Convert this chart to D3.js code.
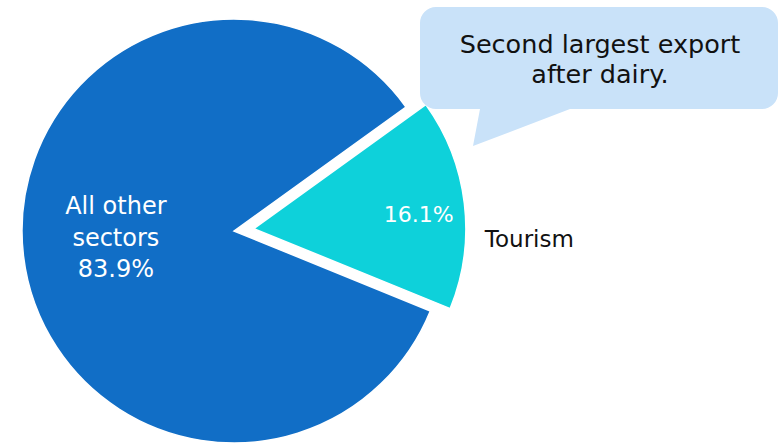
<!DOCTYPE html>
<html>
<head>
<meta charset="utf-8">
<script src="https://cdn.jsdelivr.net/npm/d3@7"></script>
<style>
  html, body { margin: 0; padding: 0; background: #fff; }
  svg text { font-family: "DejaVu Sans", "Noto Sans", sans-serif; }
</style>
</head>
<body>
<svg id="chart" width="779" height="443"></svg>
<script>
// Export share by sector
const categories = ["Tourism", "All other sectors"];
const values = [16.1, 83.9];
const sliceColors = ["#0ED1DA", "#116EC6"];
const calloutLines = ["Second largest export", "after dairy."];

const W = 779, H = 443;
const cx = 234, cy = 231, radius = 212;
const explode = 20;          // tourism slice pulled out
const startAngle = 54.2 * Math.PI / 180;

const svg = d3.select("#chart");

const pie = d3.pie()
  .sort(null)
  .value(d => d.value)
  .startAngle(startAngle)
  .endAngle(startAngle + 2 * Math.PI);

const data = categories.map((c, i) => ({ name: c, value: values[i], color: sliceColors[i] }));
const arcs = pie(data);

const arc = d3.arc().innerRadius(0).outerRadius(radius);

const offsetOf = d => {
  if (d.index !== 0) return [0, 0];
  const mid = (d.startAngle + d.endAngle) / 2;
  return [Math.sin(mid) * explode, -Math.cos(mid) * explode];
};

const g = svg.append("g").attr("transform", `translate(${cx},${cy})`);

g.selectAll("path.slice")
  .data(arcs)
  .join("path")
  .attr("class", "slice")
  .attr("transform", d => `translate(${offsetOf(d)})`)
  .attr("d", arc)
  .attr("fill", d => d.data.color)
  .attr("stroke", "#fff")
  .attr("stroke-width", 1.5)
  .attr("stroke-linejoin", "miter");

// Value labels inside the slices
const labelRadius = [166, 119];
const labelSize = [22, 24];
const labelShift = [5, -8];
arcs.forEach((d, i) => {
  const mid = (d.startAngle + d.endAngle) / 2;
  const [ox, oy] = offsetOf(d);
  const lx = ox + Math.sin(mid) * labelRadius[i];
  const ly = oy - Math.cos(mid) * labelRadius[i] + labelShift[i];
  const lines = i === 0
    ? [d.data.value.toFixed(1) + "%"]
    : ["All other", "sectors", d.data.value.toFixed(1) + "%"];
  const lh = 31.5;
  const t = g.append("text")
    .attr("fill", "#fff")
    .attr("font-size", labelSize[i])
    .attr("text-anchor", "middle");
  lines.forEach((ln, k) => {
    t.append("tspan")
      .attr("x", lx)
      .attr("y", ly + (k - (lines.length - 1) / 2) * lh + labelSize[i] * 0.36)
      .text(ln);
  });
});

// Category label beside the pulled-out slice
{
  const d = arcs[0];
  const [ox, oy] = offsetOf(d);
  g.append("text")
    .attr("x", ox + radius + 19)
    .attr("y", oy + 18)
    .attr("font-size", 23)
    .attr("fill", "#111")
    .text(d.data.name);
}

// Callout bubble
const bx0 = 420, by0 = 7, bx1 = 778, by1 = 109, rr = 16;
const tail = { a: 480, b: 570, tipX: 473, tipY: 146 };
const bubble = d3.path();
bubble.moveTo(bx0 + rr, by0);
bubble.lineTo(bx1 - rr, by0);
bubble.arcTo(bx1, by0, bx1, by0 + rr, rr);
bubble.lineTo(bx1, by1 - rr);
bubble.arcTo(bx1, by1, bx1 - rr, by1, rr);
bubble.lineTo(tail.b, by1);
bubble.lineTo(tail.tipX, tail.tipY);
bubble.lineTo(tail.a, by1);
bubble.lineTo(bx0 + rr, by1);
bubble.arcTo(bx0, by1, bx0, by1 - rr, rr);
bubble.lineTo(bx0, by0 + rr);
bubble.arcTo(bx0, by0, bx0 + rr, by0, rr);
bubble.closePath();

svg.append("path")
  .attr("d", bubble.toString())
  .attr("fill", "#C9E2F9");

const ct = svg.append("text")
  .attr("font-size", 25.5)
  .attr("fill", "#111")
  .attr("text-anchor", "middle");
calloutLines.forEach((ln, k) => {
  ct.append("tspan")
    .attr("x", 600)
    .attr("y", 53 + k * 30)
    .text(ln);
});
</script>
</body>
</html>
